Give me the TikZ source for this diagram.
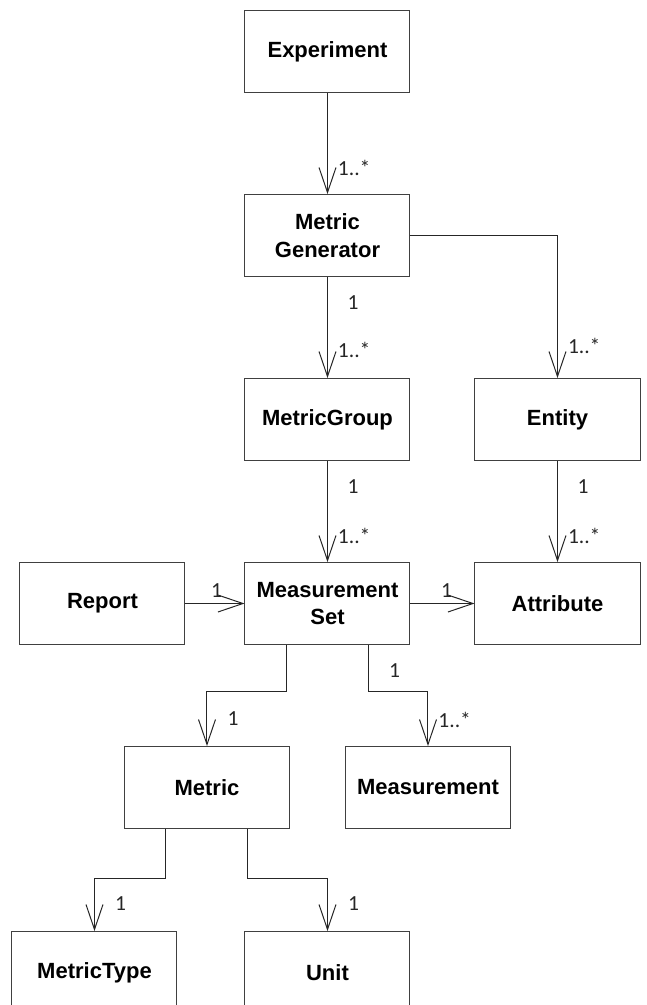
\documentclass[tikz,border=0pt]{standalone}
\usepackage{fontspec}
\setmainfont{Liberation Sans}
\newfontfamily\multfont{Carlito}
\usetikzlibrary{arrows.meta,positioning}
\definecolor{umlgray}{RGB}{64,64,64}
\tikzset{
  uml/.style={>={Straight Barb[length=25pt,width=17pt]},line width=1pt,
    every node/.style={inner sep=0pt}},
  cls/.style={draw=umlgray,rectangle,minimum width=165pt,minimum height=82pt,
    align=center,font=\fontsize{22}{27.5}\selectfont\bfseries},
  assoc/.style={->,black!85},
  mult/.style={font=\fontsize{21.5}{23}\selectfont\multfont},
  src/.style={mult,pos=0,xshift=25.5pt,yshift=-26pt},
  tgt/.style={mult,pos=1,anchor=south west,xshift=10pt,yshift=18pt},
  tgtone/.style={mult,pos=1,xshift=26pt,yshift=27pt},
  side/.style={mult,pos=1,xshift=-28pt,yshift=13pt}}

\begin{document}
\begin{tikzpicture}[uml,node distance=101pt and 64pt]
  \useasboundingbox (-327.5pt,51.5pt) rectangle (318.5pt,-953.5pt);
  \node[cls] (exp) {Experiment};
  \node[cls] (gen) [below=of exp] {Metric\\Generator};
  \node[cls] (group) [below=of gen] {MetricGroup};
  \node[cls] (entity) [right=of group] {Entity};
  \node[cls] (mset) [below=of group] {Measurement\\Set};
  \node[cls] (report) [left=59pt of mset] {Report};
  \node[cls] (attr) [right=of mset] {Attribute};
  \node[cls] (metric) [below=of mset,xshift=-120.5pt] {Metric};
  \node[cls] (meas) [below=of mset,xshift=100.5pt] {Measurement};
  \node[cls] (mtype) [below=102pt of metric,xshift=-112.5pt] {MetricType};
  \node[cls] (unit) [below=102pt of metric,xshift=120.5pt] {Unit};
  % associations
  \draw[assoc] (exp) -- (gen) node[tgt] {1..*};
  \draw[assoc] (gen) -- (group) node[src] {1} node[tgt,yshift=2pt] {1..*};
  \draw[assoc] (gen) -| (entity) node[tgt,yshift=6pt] {1..*};
  \draw[assoc] (group) -- (mset) node[src] {1} node[tgt] {1..*};
  \draw[assoc] (entity) -- (attr) node[src] {1} node[tgt] {1..*};
  \draw[assoc] (report) -- (mset) node[side] {1};
  \draw[assoc] (mset) -- (attr) node[side] {1};
  \draw[assoc] ([xshift=-40.5pt]mset.south) -- ++(0,-46pt) -| (metric) node[tgtone] {1};
  \draw[assoc] ([xshift=41.5pt]mset.south) -- ++(0,-46pt) node[src] {1} -| (meas) node[tgt] {1..*};
  \draw[assoc] ([xshift=-41pt]metric.south) -- ++(0,-49pt) -| (mtype) node[tgtone] {1};
  \draw[assoc] ([xshift=41pt]metric.south) -- ++(0,-49pt) -| (unit) node[tgtone] {1};
\end{tikzpicture}
\end{document}
